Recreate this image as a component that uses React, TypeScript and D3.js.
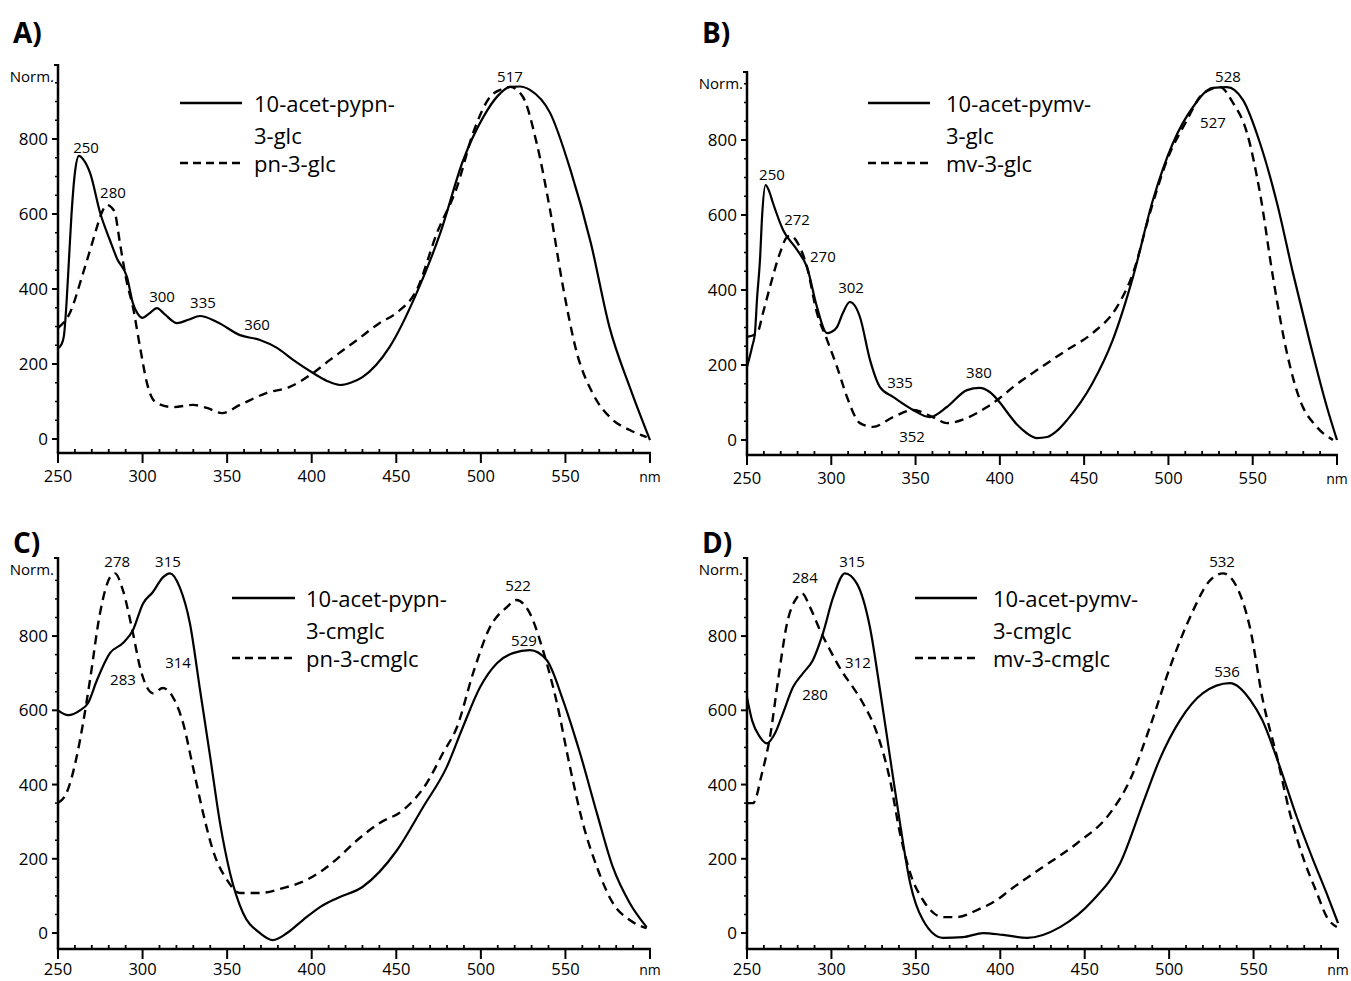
import React from 'react';
import * as d3 from 'd3';

const FONT = "'Open Sans', sans-serif";

// ---------- data: [wavelength nm, normalized absorbance] ----------
const aSolid: [number, number][] = [[250,242],[252,252],[253.5,275],[255,360],[256.5,480],[258,600],[260,710],[262.4,755],[265,745],[269,709],[275,602],[280.7,530],[285,480],[290.8,432],[294.3,362],[297,335],[300,323],[304,335],[308.5,349],[313,333],[320.4,309],[327,318],[334,328],[344,312],[357.6,277],[369.4,264],[379.5,243],[389,211],[400.8,176],[409,155],[416.7,144],[423,150],[430,165],[446,245],[462,389],[476,549],[489.6,744],[501.5,859],[510,915],[517.4,939],[523,940],[529,931],[541,869],[553,717],[565,523],[576,299],[588,139],[600,-3]];
const aDashed: [number, number][] = [[250,296],[257,336],[264.8,442],[270.7,530],[273,565],[276,605],[279,624],[281.5,618],[283.7,602],[286.7,520],[290.8,416],[294.3,352],[298.5,245],[302.6,149],[305,115],[308.5,96],[318,85],[329.8,91],[338,83],[347,69],[357.6,91],[373.5,123],[387,139],[400.8,176],[410.8,211],[426.8,264],[440,309],[450,336],[462,397],[474,549],[485.9,672],[495.4,816],[505.4,912],[512,932],[517.4,939],[524.9,912],[533,789],[540.9,611],[548.6,405],[556.8,229],[566,123],[578,51],[588,24],[598,5]];
const bSolid: [number, number][] = [[250,195],[253,248],[254.7,285],[256,380],[257.7,480],[259,600],[261,680],[263,665],[265.4,632],[271.4,560],[279.7,507],[285.6,461],[291.5,355],[297.5,285],[300,288],[303.4,301],[307,340],[311,368],[314,358],[317,328],[323,213],[328.9,141],[336.6,115],[348.5,80],[358.5,61],[368.6,88],[380.5,133],[388,139],[394,128],[400,100],[405,70],[410,42],[416,18],[422,5],[428,8],[434,25],[439.8,53],[455,152],[467,267],[479,435],[490.8,640],[502.7,792],[514.6,888],[526.4,939],[534.7,941],[544.2,907],[554.3,792],[564.4,632],[573.9,445],[584,259],[594,88],[600,0]];
const bDashed: [number, number][] = [[250,275],[256,285],[259.5,339],[263.6,408],[269.6,499],[273.7,541],[276,545],[279.7,528],[285.6,461],[291.5,339],[297.5,267],[303.4,195],[309.3,115],[317,45],[324.7,35],[336.6,61],[348.5,80],[360.3,61],[368.6,45],[380.5,59],[392.4,88],[400,112],[407.8,141],[419.6,179],[439.8,240],[455,285],[469.5,355],[479,445],[489,605],[499.2,747],[511,853],[518.7,915],[525,935],[530.6,941],[538.3,899],[546.6,819],[554.3,659],[562,435],[570.3,232],[578,107],[588,35],[597.6,0]];
const cSolid: [number, number][] = [[250,600],[256,587],[263,600],[267.7,619],[273,681],[280.7,754],[288.4,781],[294.3,816],[300.3,888],[306,918],[312,958],[316.2,969],[322,931],[328,834],[334,654],[340,474],[345.8,296],[351.7,162],[359.4,54],[369.4,0],[377,-19],[385.4,0],[394.8,35],[404.9,70],[415,94],[430,124],[450.4,223],[465.8,339],[479.8,447],[489.4,555],[499.5,662],[509.5,727],[519,754],[529,762],[539,735],[548.6,627],[558.6,485],[568.6,323],[578,178],[588,81],[598,16]];
const cDashed: [number, number][] = [[250,350],[255,377],[261,474],[264.8,565],[268.9,681],[274.8,861],[280.7,958],[283.7,969],[288.4,923],[294.3,808],[298.5,716],[302.6,662],[306.2,646],[312,660],[318,635],[324,565],[329.8,447],[335.8,323],[341.6,223],[349.9,143],[357.6,108],[369.4,108],[383,121],[397,143],[406.7,170],[415,200],[426.8,250],[440,296],[454,331],[468,404],[477.6,485],[485.9,555],[495.4,700],[505.4,824],[515.4,878],[521,897],[529,861],[536.7,762],[545,619],[552.7,447],[560.3,296],[568.6,178],[578,81],[588,35],[598,13]];
const dSolid: [number, number][] = [[250,635],[253,573],[257.7,528],[261.8,511],[266.6,538],[271.3,592],[277.2,662],[283.2,700],[289,735],[295,808],[301,904],[308,969],[315,942],[322.8,824],[328.8,654],[334.7,474],[340.6,296],[346.6,135],[354.2,35],[366,-13],[378,-11],[389.8,0],[401.6,-5],[415.8,-13],[435.4,16],[455,89],[471,188],[484.5,350],[494.6,470],[506.4,573],[520,646],[536,673],[542,660],[548,628],[555,575],[565,455],[575,320],[585,200],[593,110],[600,27]];
const dDashed: [number, number][] = [[250,350],[253.6,350],[258.9,431],[263.6,528],[268.4,681],[273.7,834],[279.6,904],[282.6,915],[287.3,878],[293.2,816],[299.2,762],[306.9,700],[312.8,662],[318.7,619],[327,538],[334.7,412],[340.6,269],[346.6,162],[354.2,89],[366,43],[374.4,43],[386.2,62],[398,89],[405.7,116],[425.3,178],[445.5,242],[465,323],[476.8,412],[488.6,555],[500.5,716],[512.4,851],[524.2,950],[531.9,969],[540.2,931],[547.8,824],[555.5,627],[563.9,474],[571.5,323],[579.2,205],[587.5,108],[593.4,43],[599.3,16]];

// peak annotations: [label, nm, value]
const aPeaks: [string, number, number][] = [["250",266.6,763],["280",282.5,643],["300",311.5,365],["335",335.7,349],["360",367.7,291],["517",517.2,952]];
const bPeaks: [string, number, number][] = [["250",264.8,693],["272",279.7,573],["270",295,475],["302",311.7,392],["335",340.8,139],["380",387.6,165],["352",347.9,-5],["528",535.3,955],["527",526.4,832]];
const cPeaks: [string, number, number][] = [["278",285,985],["315",315,985],["283",288.4,668],["314",321,713],["522",522,921],["529",525.5,773]];
const dPeaks: [string, number, number][] = [["284",284.3,942],["315",312.2,985],["312",315.7,713],["280",290.3,627],["532",531.3,985],["536",534.3,689]];

const aLegend = ['10-acet-pypn-', '3-glc', 'pn-3-glc'];
const bLegend = ['10-acet-pymv-', '3-glc', 'mv-3-glc'];
const cLegend = ['10-acet-pypn-', '3-cmglc', 'pn-3-cmglc'];
const dLegend = ['10-acet-pymv-', '3-cmglc', 'mv-3-cmglc'];

const xMajor = [250, 300, 350, 400, 450, 500, 550];
const yMajor = [0, 200, 400, 600, 800];

type Panel = {
  letter: string; lx: number; ly: number;
  xRange: [number, number]; yDomain: [number, number]; yRange: [number, number];
  solid: [number, number][]; dashed: [number, number][];
  legend: string[]; legLine: [number, number, number]; legText: number;
  peaks: [string, number, number][]; xLabelDy: number;
};

const panels: Panel[] = [
  { letter: 'A)', lx: 13, ly: 43, xRange: [58, 650], yDomain: [-37.3, 1000], yRange: [453, 64], solid: aSolid, dashed: aDashed, legend: aLegend, legLine: [180, 242, 103], legText: 254, peaks: aPeaks, xLabelDy: 29 },
  { letter: 'B)', lx: 702, ly: 43, xRange: [747, 1337], yDomain: [-40, 984], yRange: [455, 71], solid: bSolid, dashed: bDashed, legend: bLegend, legLine: [868, 930, 103], legText: 946, peaks: bPeaks, xLabelDy: 29 },
  { letter: 'C)', lx: 13, ly: 553, xRange: [58, 650], yDomain: [-43, 1013], yRange: [949, 557], solid: cSolid, dashed: cDashed, legend: cLegend, legLine: [232, 295, 598], legText: 306, peaks: cPeaks, xLabelDy: 26 },
  { letter: 'D)', lx: 702, ly: 553, xRange: [747, 1338], yDomain: [-43, 1013], yRange: [949, 557], solid: dSolid, dashed: dDashed, legend: dLegend, legLine: [915, 977, 598], legText: 993, peaks: dPeaks, xLabelDy: 26 },
];

function PanelView({ p }: { p: Panel }) {
  const x = d3.scaleLinear().domain([250, 600]).range(p.xRange);
  const y = d3.scaleLinear().domain(p.yDomain).range(p.yRange);
  const line = d3.line<[number, number]>().x(d => x(d[0])).y(d => y(d[1])).curve(d3.curveMonotoneX);
  const x0 = p.xRange[0], x1 = p.xRange[1];
  const yb = p.yRange[0], yt = p.yRange[1];
  const minorX = d3.range(260, 600, 10).filter(v => v % 50 !== 0);
  const minorY = d3.range(50, 1000, 50).filter(v => v % 200 !== 0 && y(v) > yt + 2);
  const [lx0, lx1, ly] = p.legLine;
  return (
    <g>
      <text x={p.lx} y={p.ly} fontFamily={FONT} fontWeight={700} fontSize={28} fill="#000">{p.letter}</text>
      {/* axes */}
      <line x1={x0} x2={x0} y1={yt} y2={yb} stroke="#000" strokeWidth={2.5} />
      <line x1={x0 - 1.2} x2={x1 + 1} y1={yb} y2={yb} stroke="#000" strokeWidth={2.5} />
      <line x1={x0 - 4} x2={x0} y1={yt + 1} y2={yt + 1} stroke="#000" strokeWidth={2} />
      {xMajor.concat([600]).map(v => (
        <line key={'xm' + v} x1={x(v)} x2={x(v)} y1={yb} y2={yb + 10} stroke="#000" strokeWidth={2} />
      ))}
      {minorX.map(v => (
        <line key={'xn' + v} x1={x(v)} x2={x(v)} y1={yb - 4} y2={yb} stroke="#000" strokeWidth={1.8} />
      ))}
      {yMajor.map(v => (
        <line key={'ym' + v} x1={x0 - 6} x2={x0} y1={y(v)} y2={y(v)} stroke="#000" strokeWidth={2} />
      ))}
      {minorY.map(v => (
        <line key={'yn' + v} x1={x0 - 3} x2={x0} y1={y(v)} y2={y(v)} stroke="#000" strokeWidth={1.5} />
      ))}
      {xMajor.map(v => (
        <text key={'xl' + v} x={x(v)} y={yb + p.xLabelDy} textAnchor="middle" fontFamily={FONT} fontSize={16.5} fill="#000">{v}</text>
      ))}
      <text x={x(600)} y={yb + p.xLabelDy} textAnchor="middle" fontFamily={FONT} fontSize={14} fill="#000">nm</text>
      {yMajor.map(v => (
        <text key={'yl' + v} x={x0 - 10} y={y(v) + 6} textAnchor="end" fontFamily={FONT} fontSize={17} fill="#000">{v}</text>
      ))}
      <text x={x0 - 4} y={yt + 18} textAnchor="end" fontFamily={FONT} fontSize={15} fill="#000">Norm.</text>
      {/* curves */}
      <path d={line(p.dashed) || ''} fill="none" stroke="#000" strokeWidth={2.4} strokeDasharray="9,6" />
      <path d={line(p.solid) || ''} fill="none" stroke="#000" strokeWidth={2.2} />
      {/* peak labels */}
      {p.peaks.map(([t, nm, v], i) => (
        <text key={'pk' + i} x={x(nm)} y={y(v)} textAnchor="middle" fontFamily={FONT} fontSize={15} fill="#000">{t}</text>
      ))}
      {/* legend */}
      <line x1={lx0} x2={lx1} y1={ly} y2={ly} stroke="#000" strokeWidth={2.4} />
      <line x1={lx0} x2={lx1} y1={ly + 60} y2={ly + 60} stroke="#000" strokeWidth={2.4} strokeDasharray="8,5" />
      <text x={p.legText} y={ly + 9} fontFamily={FONT} fontSize={22} fill="#000">{p.legend[0]}</text>
      <text x={p.legText} y={ly + 41} fontFamily={FONT} fontSize={22} fill="#000">{p.legend[1]}</text>
      <text x={p.legText} y={ly + 69} fontFamily={FONT} fontSize={22} fill="#000">{p.legend[2]}</text>
    </g>
  );
}

export default function App() {
  return (
    <svg width={1351} height={981} style={{ position: 'absolute', left: 0, top: 0, background: '#fff' }}>
      <rect x={0} y={0} width={1351} height={981} fill="#fff" />
      {panels.map((p, i) => <PanelView key={i} p={p} />)}
    </svg>
  );
}
